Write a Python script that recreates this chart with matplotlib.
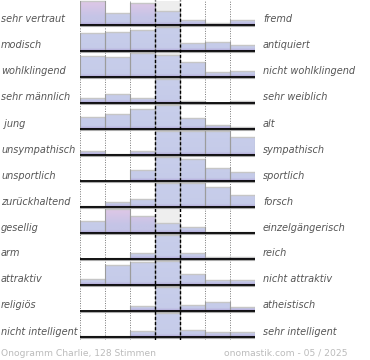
import numpy as np
import matplotlib
matplotlib.use("Agg")
import matplotlib.pyplot as plt
from matplotlib.patches import Rectangle
from matplotlib.transforms import blended_transform_factory

left_labels = ["sehr vertraut", "modisch", "wohlklingend", "sehr männlich", " jung",
               "unsympathisch", "unsportlich", "zurückhaltend", "gesellig", "arm",
               "attraktiv", "religiös", "nicht intelligent"]
right_labels = ["fremd", "antiquiert", "nicht wohlklingend", "sehr weiblich", "alt",
                "sympathisch", "sportlich", "forsch", "einzelgängerisch", "reich",
                "nicht attraktiv", "atheistisch", "sehr intelligent"]

# relative bar heights per row (7 steps, middle = neutral), 100 = full row height
values = [
    [98, 50, 88, 56, 20, 10, 20],
    [72, 76, 84, 100, 34, 38, 24],
    [84, 80, 100, 89, 62, 20, 26],
    [20, 35, 22, 100, 10, 1, 7],
    [50, 62, 80, 100, 46, 18, 8],
    [18, 5, 18, 100, 100, 100, 75],
    [0, 0, 43, 100, 90, 55, 36],
    [5, 19, 32, 100, 98, 80, 50],
    [49, 98, 71, 41, 26, 5, 5],
    [0, 5, 24, 100, 24, 7, 8],
    [26, 82, 95, 100, 46, 19, 19],
    [0, 0, 19, 100, 26, 35, 18],
    [5, 5, 26, 100, 27, 19, 19],
]
highlight = {(0, 0), (0, 2), (8, 1), (8, 2)}

footer_left = "Onogramm Charlie, 128 Stimmen"
footer_right = "onomastik.com - 05 / 2025"

W, Hpx = 370, 360
fig = plt.figure(figsize=(W / 100, Hpx / 100), dpi=100)
ax = fig.add_axes([79.5 / W, 20 / Hpx, 175 / W, 340 / Hpx])
ax.set_axis_off()

ncol = 7
nrow = len(values)
FULL = 24.5 / 26.0


def gradient(pink):
    n = 60
    f = np.linspace(1, 0, n)  # top -> bottom
    lav = np.array([197, 203, 233]) / 255
    lav_top = np.array([200, 206, 235]) / 255
    pur = np.array([176, 164, 214]) / 255
    pk = np.array([221, 199, 231]) / 255
    cols = []
    for v in f:
        if pink:
            top = pk
            mid = np.array([196, 196, 230]) / 255
            c = mid + (top - mid) * np.clip((v - 0.3) / 0.6, 0, 1)
        else:
            c = lav + (lav_top - lav) * v
        if v < 0.12:
            t = 1 - v / 0.12
            c = c + (pur - c) * t
        cols.append(c)
    return np.array(cols).reshape(n, 1, 3)


g_normal = gradient(False)
g_pink = gradient(True)

for i, row in enumerate(values):
    base = i + 1
    # neutral background of middle column
    ax.add_patch(Rectangle((2.5, base - FULL), 1, FULL, facecolor="#eeeeee",
                           edgecolor="none", zorder=1))
    for c, v in enumerate(row):
        h = min(v, 100) / 100.0 * FULL
        if h <= 0:
            continue
        img = g_pink if (i, c) in highlight else g_normal
        im = ax.imshow(img, extent=(c - 0.5, c + 0.5, base, base - FULL),
                       origin="upper", aspect="auto", zorder=2, interpolation="bilinear")
        rect = Rectangle((c - 0.5, base - h), 1, h, transform=ax.transData)
        im.set_clip_path(rect)
        ax.plot([c - 0.5, c + 0.5], [base - h, base - h], color="#c6c6c6", lw=1.0,
                zorder=3, solid_capstyle="butt")
        for xe in (c - 0.5, c + 0.5):
            ax.plot([xe, xe], [base, base - h], color="#9c9c9c", lw=0.8, zorder=3)

ax.set_xlim(-0.5, 6.5)
ax.set_ylim(341 / 26, 1 / 26)

# grid lines
for xg in (-0.5, 0.5, 1.5, 4.5, 5.5, 6.5):
    ax.axvline(xg, color="#777777", lw=0.7, ls=(0, (1, 1.5)), zorder=0.5)
for xg in (2.5, 3.5):
    ax.axvline(xg, color="black", lw=1.0, ls=(0, (2.2, 1.5)), zorder=5)

# baselines
for i in range(nrow):
    base = i + 1
    ax.plot([-0.5, 6.5], [base + 0.045, base + 0.045], color="#aaaaaa", lw=0.8, zorder=4)
    ax.plot([-0.5, 6.5], [base, base], color="black", lw=1.3, zorder=4.5,
            solid_capstyle="butt")

tr = blended_transform_factory(fig.transFigure, ax.transData)
for i in range(nrow):
    y = i + 1 - 2.5 / 26
    ax.text(1 / W, y, left_labels[i], transform=tr, ha="left", va="baseline",
            fontsize=7.0, style="italic", color="#555555", clip_on=False)
    ax.text(263 / W, y, right_labels[i], transform=tr, ha="left", va="baseline",
            fontsize=7.0, style="italic", color="#555555", clip_on=False)

fig.text(1 / W, 1 - 356 / Hpx, footer_left, ha="left", va="baseline",
         fontsize=6.6, color="#bbbbbb")
fig.text(347 / W, 1 - 356 / Hpx, footer_right, ha="right", va="baseline",
         fontsize=6.6, color="#bbbbbb")

fig.savefig("out.png", dpi=100)
